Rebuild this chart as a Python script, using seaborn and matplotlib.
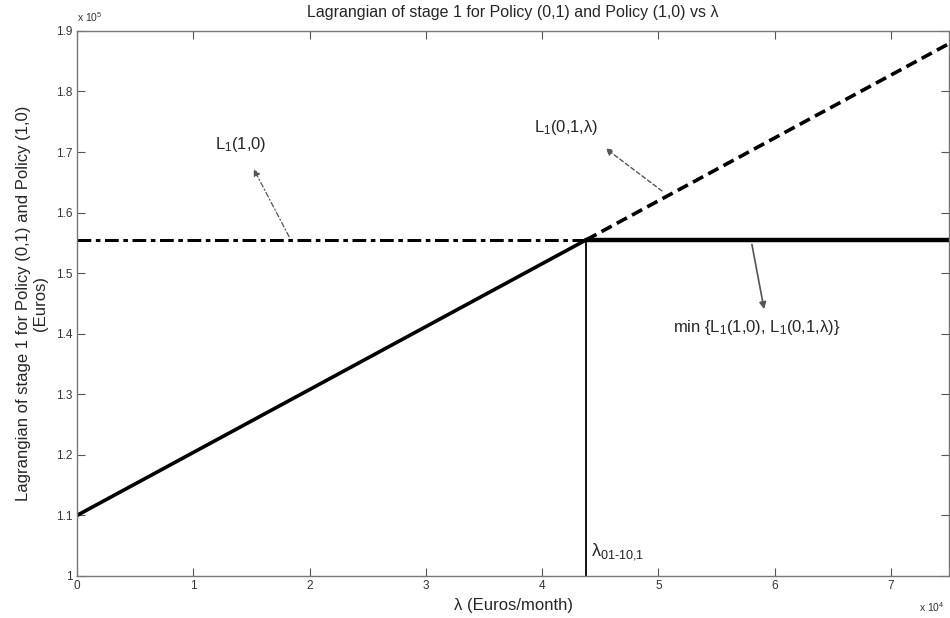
import numpy as np
import pandas as pd
import matplotlib
matplotlib.use("Agg")
import matplotlib.pyplot as plt
import seaborn as sns
from matplotlib.ticker import FuncFormatter

# Data
lam_cross = 4.38e4
lam_left = [0.0, lam_cross]
lam_right = [lam_cross, 7.5e4]
L01_left = [1.10e5, 1.555e5]
L01_right = [1.555e5, 1.879e5]
L10_left = [1.555e5, 1.555e5]
L10_right = [1.555e5, 1.555e5]
vline_y = [1.0e5, 1.555e5]
x_ticks = [0, 1, 2, 3, 4, 5, 6, 7]
y_ticks = [1.0, 1.1, 1.2, 1.3, 1.4, 1.5, 1.6, 1.7, 1.8, 1.9]

sns.set_theme(style="white")
plt.rcParams['font.family'] = ['Liberation Sans', 'DejaVu Sans']
plt.rcParams['mathtext.fontset'] = 'custom'
plt.rcParams['mathtext.rm'] = 'Liberation Sans'
plt.rcParams['mathtext.it'] = 'Liberation Sans'
plt.rcParams['mathtext.bf'] = 'Liberation Sans:bold'
plt.rcParams['mathtext.default'] = 'regular'

fig = plt.figure(figsize=(9.5, 6.18), dpi=100)
ax = fig.add_axes([0.081, 0.068, 0.918, 0.882])

sns.lineplot(x=lam_left, y=L01_left, ax=ax, color='black', lw=2.6, estimator=None, sort=False)
sns.lineplot(x=lam_right, y=L01_right, ax=ax, color='black', lw=2.6, linestyle=(0, (3.2, 1.6)),
             estimator=None, sort=False)
sns.lineplot(x=lam_left, y=L10_left, ax=ax, color='black', lw=2.2, linestyle=(0, (4.5, 1.5, 1.5, 1.5)),
             estimator=None, sort=False)
sns.lineplot(x=lam_right, y=L10_right, ax=ax, color='black', lw=3.2, estimator=None, sort=False)
sns.lineplot(x=[lam_cross, lam_cross], y=vline_y, ax=ax, color='black', lw=1.3,
             estimator=None, sort=False)

ax.set_xlim(0, 7.5e4)
ax.set_ylim(1.0e5, 1.9e5)
ax.set_xticks([v * 1e4 for v in x_ticks])
ax.set_yticks([v * 1e5 for v in y_ticks])
ax.xaxis.set_major_formatter(FuncFormatter(lambda v, p: f"{v/1e4:g}"))
ax.yaxis.set_major_formatter(FuncFormatter(lambda v, p: f"{v/1e5:g}"))
ax.tick_params(direction='in', length=6, width=0.8, color='#555555', labelsize=8.5,
               labelcolor='#333333', top=True, right=True, bottom=True, left=True, pad=3)
for s in ax.spines.values():
    s.set_color('#777777')
    s.set_linewidth(1.0)

ax.set_title("Lagrangian of stage 1 for Policy (0,1) and Policy (1,0) vs λ", fontsize=11.5, pad=10)
ax.set_xlabel("λ (Euros/month)", fontsize=12, labelpad=4)
ax.set_ylabel("Lagrangian of stage 1 for Policy (0,1) and Policy (1,0)\n(Euros)", fontsize=12, labelpad=6)

ax.text(0.0, 1.012, r"x 10$^5$", transform=ax.transAxes, fontsize=7.5, color='#333333', ha='left', va='bottom')
ax.text(0.995, -0.045, r"x 10$^4$", transform=ax.transAxes, fontsize=7.5, color='#333333', ha='right', va='top')

# Annotations
ax.annotate("", xy=(1.509e4, 1.676e5), xytext=(1.836e4, 1.556e5),
            arrowprops=dict(arrowstyle='-|>', color='#555555', lw=0.9, linestyle=(0, (4, 2, 1, 2)),
                            mutation_scale=10))
ax.text(1.405e4, 1.712e5, r"L$_1$(1,0)", fontsize=12, ha='center', va='center')

ax.annotate("", xy=(4.526e4, 1.709e5), xytext=(5.05e4, 1.633e5),
            arrowprops=dict(arrowstyle='-|>', color='#555555', lw=1.0, linestyle=(0, (3, 2)),
                            mutation_scale=10))
ax.text(4.207e4, 1.740e5, r"L$_1$(0,1,λ)", fontsize=12, ha='center', va='center')

ax.annotate("", xy=(5.914e4, 1.436e5), xytext=(5.80e4, 1.552e5),
            arrowprops=dict(arrowstyle='-|>', color='#555555', lw=1.2, mutation_scale=10))
ax.text(5.845e4, 1.410e5, r"min {L$_1$(1,0), L$_1$(0,1,λ)}", fontsize=12, ha='center', va='center')

ax.text(4.42e4, 1.04e5, r"λ$_{\text{01-10,1}}$", fontsize=13, ha='left', va='center')

fig.savefig("out.png", dpi=100)
